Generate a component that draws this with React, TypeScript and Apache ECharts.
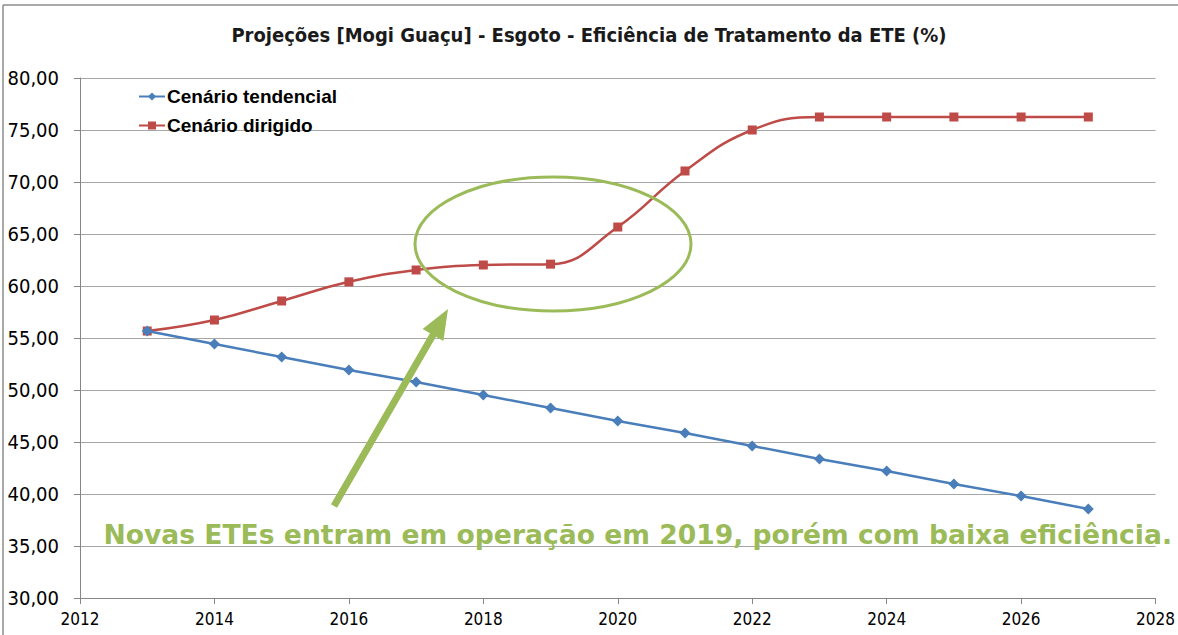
import React, { useEffect, useRef } from "react";
import * as echarts from "echarts";

const years = [2013, 2014, 2015, 2016, 2017, 2018, 2019, 2020, 2021, 2022, 2023, 2024, 2025, 2026, 2027];
const tendencial = [55.67, 54.42, 53.17, 51.92, 50.77, 49.52, 48.27, 47.02, 45.87, 44.62, 43.37, 42.21, 40.96, 39.81, 38.56];
const dirigido = [55.67, 56.73, 58.56, 60.4, 61.54, 62.02, 62.1, 65.67, 71.06, 75.0, 76.25, 76.25, 76.25, 76.25, 76.25];
const seriesNames = ["Cenário tendencial", "Cenário dirigido"];
const titleText = "Projeções [Mogi Guaçu] - Esgoto - Eficiência de Tratamento da ETE (%)";
const annotationText = "Novas ETEs entram em operação em 2019, porém com baixa eficiência.";

const GREEN = "#9BBB59";
const NARROW = "'Liberation Sans Narrow', 'DejaVu Sans Condensed', 'Noto Sans', sans-serif";

function arrowPolygon(x0: number, y0: number, x1: number, y1: number, shaftW: number, headL: number, headW: number) {
  const dx = x1 - x0, dy = y1 - y0;
  const len = Math.sqrt(dx * dx + dy * dy);
  const ux = dx / len, uy = dy / len;
  const px = -uy, py = ux;
  const bx = x1 - ux * headL, by = y1 - uy * headL;
  const s = shaftW / 2, h = headW / 2;
  return [
    [x0 + px * s, y0 + py * s],
    [bx + px * s, by + py * s],
    [bx + px * h, by + py * h],
    [x1, y1],
    [bx - px * h, by - py * h],
    [bx - px * s, by - py * s],
    [x0 - px * s, y0 - py * s],
  ];
}

export default function App() {
  const ref = useRef<HTMLDivElement>(null);
  useEffect(() => {
    if (!ref.current) return;
    const chart = echarts.init(ref.current, undefined, { renderer: "svg" });
    chart.setOption({
      animation: false,
      backgroundColor: "#ffffff",
      title: {
        text: titleText,
        left: "center",
        top: 20,
        textStyle: { fontFamily: NARROW, fontSize: 20, fontWeight: "bold", color: "#1a1a1a" },
      },
      legend: {
        orient: "vertical",
        left: 133,
        top: 82,
        itemWidth: 26,
        itemHeight: 10,
        itemGap: 10,
        textStyle: { fontFamily: "'Liberation Sans', Arial, sans-serif", fontSize: 19, fontWeight: "bold", color: "#000", padding: [0, 0, 0, -3] },
        data: seriesNames,
      },
      grid: { left: 80, right: 21, top: 78, bottom: 37 },
      xAxis: {
        type: "value",
        min: 2012,
        max: 2028,
        interval: 2,
        axisLine: { show: true, lineStyle: { color: "#868686" } },
        axisTick: { show: true, length: 6, lineStyle: { color: "#868686" } },
        splitLine: { show: false },
        axisLabel: { fontFamily: NARROW, fontSize: 17, color: "#000", margin: 12, formatter: (v: number) => String(v) },
      },
      yAxis: {
        type: "value",
        min: 30,
        max: 80,
        interval: 5,
        axisLine: { show: true, lineStyle: { color: "#868686" } },
        axisTick: { show: true, length: 6, lineStyle: { color: "#868686" } },
        splitLine: { show: true, lineStyle: { color: "#A6A6A6" } },
        axisLabel: {
          fontFamily: NARROW,
          fontSize: 20,
          color: "#000",
          margin: 21,
          formatter: (v: number) => v.toFixed(2).replace(".", ","),
        },
      },
      series: [
        {
          name: seriesNames[0],
          type: "line",
          data: years.map((y, i) => [y, tendencial[i]]),
          symbol: "diamond",
          symbolSize: 11,
          itemStyle: { color: "#4A7EBB" },
          lineStyle: { color: "#4A7EBB", width: 2.5 },
          z: 3,
        },
        {
          name: seriesNames[1],
          type: "line",
          smooth: 0.45,
          data: years.map((y, i) => [y, dirigido[i]]),
          symbol: "rect",
          symbolSize: 9,
          itemStyle: { color: "#BE4B48" },
          lineStyle: { color: "#BE4B48", width: 2.5 },
          z: 2,
        },
      ],
      graphic: [
        { type: "line", shape: { x1: 3, y1: 5, x2: 1178, y2: 5 }, style: { stroke: "#8c8c8c", lineWidth: 1.5 } },
        { type: "line", shape: { x1: 3, y1: 5, x2: 3, y2: 635 }, style: { stroke: "#8c8c8c", lineWidth: 1.5 } },
        {
          type: "ellipse",
          shape: { cx: 553, cy: 244, rx: 138, ry: 67 },
          style: { fill: "none", stroke: GREEN, lineWidth: 3 },
          z: 10,
        },
        {
          type: "polygon",
          shape: { points: arrowPolygon(334, 506, 448, 309, 7, 30, 24) },
          style: { fill: GREEN },
          z: 10,
        },
        {
          type: "text",
          x: 1172,
          y: 534,
          style: {
            text: annotationText,
            fill: GREEN,
            font: "bold 26.6px 'DejaVu Sans', Verdana, sans-serif",
            textAlign: "right",
            textVerticalAlign: "middle",
          },
          z: 10,
        },
      ],
    });
    return () => chart.dispose();
  }, []);
  return <div ref={ref} style={{ position: "absolute", left: 0, top: 0, width: 1178, height: 635 }} />;
}
